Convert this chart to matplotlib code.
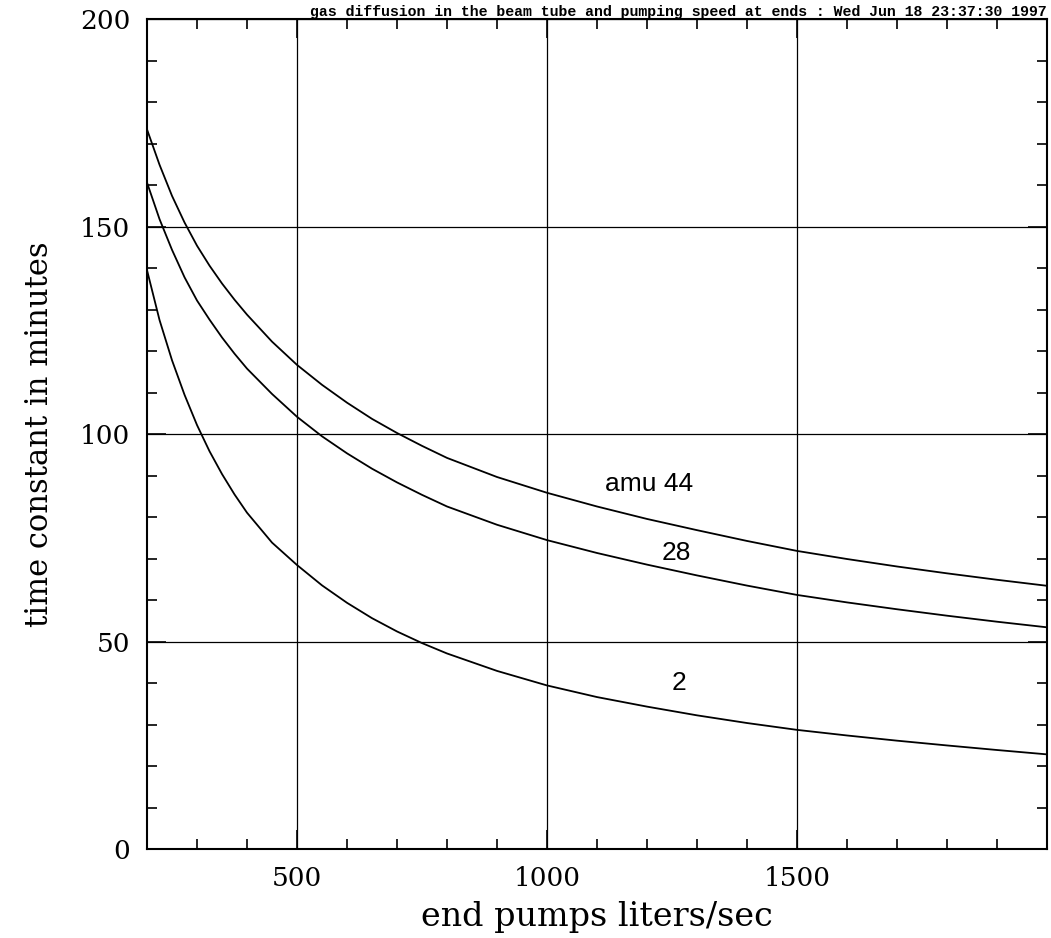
import matplotlib
matplotlib.use("Agg")
import matplotlib.pyplot as plt
from matplotlib.ticker import MultipleLocator

# end pump speed (liters/sec)
pump_speed = [200, 225, 250, 275, 300, 325, 350, 375, 400, 450, 500, 550,
              600, 650, 700, 750, 800, 900, 1000, 1100, 1200, 1300, 1400,
              1500, 1600, 1700, 1800, 1900, 2000]

# time constants (minutes)
tau_amu44 = [173.4, 164.9, 157.4, 151.0, 145.4, 140.6, 136.3, 132.4, 128.8,
             122.3, 116.7, 111.9, 107.6, 103.7, 100.3, 97.2, 94.3, 89.7,
             85.9, 82.6, 79.6, 76.9, 74.3, 71.9, 69.95, 68.15, 66.5, 64.95,
             63.5]
tau_amu28 = [160.6, 151.8, 144.4, 137.8, 132.2, 127.6, 123.3, 119.4, 115.8,
             109.7, 104.2, 99.5, 95.4, 91.7, 88.4, 85.4, 82.6, 78.2, 74.5,
             71.4, 68.6, 66.0, 63.55, 61.3, 59.5, 57.85, 56.3, 54.85, 53.5]
tau_amu2 = [139.5, 127.5, 117.8, 109.5, 102.2, 95.9, 90.4, 85.5, 81.1, 73.9,
            68.5, 63.6, 59.4, 55.7, 52.5, 49.7, 47.2, 43.0, 39.5, 36.7, 34.4,
            32.3, 30.45, 28.8, 27.45, 26.2, 25.05, 23.95, 22.9]

curve_labels = ["amu 44", "28", "2"]
label_pos = [(1205, 88), (1259, 71.5), (1264, 40)]

title = "gas diffusion in the beam tube and pumping speed at ends : Wed Jun 18 23:37:30 1997"

fig = plt.figure(figsize=(10.51, 9.38), dpi=100)
ax = fig.add_axes([0.1399, 0.0944, 0.8563, 0.8853])

for tau in (tau_amu44, tau_amu28, tau_amu2):
    ax.plot(pump_speed, tau, color="black", lw=1.3)

for text, (x, y) in zip(curve_labels, label_pos):
    ax.text(x, y, text, ha="center", va="center", fontsize=19,
            family="Liberation Sans")

ax.set_xlim(200, 2000)
ax.set_ylim(0, 200)

ax.xaxis.set_major_locator(MultipleLocator(500))
ax.xaxis.set_minor_locator(MultipleLocator(100))
ax.yaxis.set_major_locator(MultipleLocator(50))
ax.yaxis.set_minor_locator(MultipleLocator(10))
ax.set_xticks([500, 1000, 1500])

ax.grid(True, which="major", color="black", lw=0.9)
ax.tick_params(which="both", direction="in", top=True, right=True,
               width=1.2, labelsize=19, pad=12)
ax.tick_params(which="major", length=14)
ax.tick_params(which="minor", length=7)
for lab in ax.get_xticklabels() + ax.get_yticklabels():
    lab.set_family("DejaVu Serif")
for sp in ax.spines.values():
    sp.set_linewidth(1.5)

ax.set_xlabel("end pumps liters/sec", fontsize=24, family="DejaVu Serif",
              labelpad=7)
ax.set_ylabel("time constant in minutes", fontsize=22, family="DejaVu Serif",
              labelpad=18)

ax.text(1.0, 1.0, title, transform=ax.transAxes, ha="right", va="bottom",
        fontsize=10.7, family="Liberation Mono", fontweight="bold")

fig.savefig("out.png", dpi=100)
